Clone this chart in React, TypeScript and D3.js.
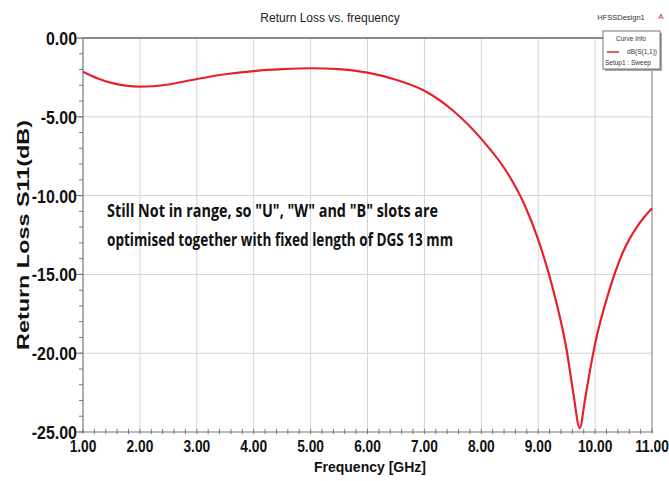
import * as d3 from "d3";

const freqGHz = [1.0, 1.25, 1.5, 1.75, 2.0, 2.5, 3.0, 3.5, 4.0, 4.5, 5.0, 5.5, 6.0, 6.5, 7.0, 7.5, 8.0, 8.5, 8.75, 9.0, 9.25, 9.5, 9.62, 9.73, 9.82, 9.9, 10.0, 10.25, 10.5, 10.75, 11.0];
const s11dB = [-2.14, -2.55, -2.85, -3.02, -3.09, -2.95, -2.6, -2.3, -2.1, -1.98, -1.92, -1.97, -2.2, -2.65, -3.35, -4.6, -6.4, -8.8, -10.5, -12.8, -15.8, -19.8, -22.6, -24.75, -23.0, -21.3, -19.4, -16.0, -13.5, -11.9, -10.8];

const xTicks = [1, 2, 3, 4, 5, 6, 7, 8, 9, 10, 11];
const yTicks = [0, -5, -10, -15, -20, -25];

const W = 669;
const H = 481;
const margin = { top: 38, right: 17, bottom: 49, left: 83 };

const App = () => {
  const x = d3.scaleLinear().domain([1, 11]).range([margin.left, W - margin.right]);
  const y = d3.scaleLinear().domain([-25, 0]).range([H - margin.bottom, margin.top]);

  const pts = freqGHz.map((f, i) => [f, s11dB[i]] as [number, number]);
  const line = d3.line<[number, number]>()
    .x(d => x(d[0]))
    .y(d => y(d[1]))
    .curve(d3.curveMonotoneX);

  const x0 = x(1), x1 = x(11), yTop = y(0), yBot = y(-25);
  const xMinor = d3.range(1, 11.001, 0.2);
  const yMinor = d3.range(-25, 0.001, 1);

  return (
    <svg width={W} height={H} style={{ position: "absolute", left: 0, top: 0, background: "#fff" }}
      fontFamily="Arial, 'Liberation Sans', sans-serif">
      {/* title */}
      <text x={330} y={22} textAnchor="middle" fontSize={12} fill="#222">Return Loss vs. frequency</text>
      <text x={621} y={20} textAnchor="middle" fontSize={7.5} fill="#333">HFSSDesign1</text>
      <text x={661} y={19} textAnchor="middle" fontSize={8} fill="#d02030">A</text>

      {/* grid */}
      {xTicks.slice(1, -1).map(t => (
        <line key={"gx" + t} x1={x(t)} x2={x(t)} y1={yTop} y2={yBot} stroke="#d4d4d4" strokeWidth={1} />
      ))}
      {yTicks.slice(1, -1).map(t => (
        <line key={"gy" + t} x1={x0} x2={x1} y1={y(t)} y2={y(t)} stroke="#d4d4d4" strokeWidth={1} />
      ))}

      {/* frame */}
      <line x1={x0} x2={x1} y1={yTop} y2={yTop} stroke="#8a8a8a" strokeWidth={2} />
      <line x1={x1} x2={x1} y1={yTop} y2={yBot} stroke="#8a8a8a" strokeWidth={1.2} />
      <line x1={x0} x2={x0} y1={yTop} y2={yBot} stroke="#777" strokeWidth={1.2} />
      <line x1={x0} x2={x1} y1={yBot} y2={yBot} stroke="#777" strokeWidth={1.2} />

      {/* minor ticks */}
      {yMinor.map(t => (
        <line key={"my" + t} x1={x0 - 4} x2={x0} y1={y(t)} y2={y(t)} stroke="#777" strokeWidth={1} />
      ))}
      {xMinor.map(t => (
        <line key={"mx" + t} x1={x(t)} x2={x(t)} y1={yBot - 3} y2={yBot + 2} stroke="#777" strokeWidth={1} />
      ))}
      {yTicks.map(t => (
        <line key={"ty" + t} x1={x0 - 8} x2={x0} y1={y(t)} y2={y(t)} stroke="#777" strokeWidth={1} />
      ))}

      {/* curve */}
      <path d={line(pts) ?? ""} fill="none" stroke="#e8202c" strokeWidth={2.2} />

      {/* axis labels */}
      {yTicks.map(t => (
        <text key={"ly" + t} transform={`translate(77, ${y(t) + 7}) scale(0.84, 1)`} textAnchor="end"
          fontSize={19} fontWeight="bold" fill="#111">
          {t.toFixed(2)}
        </text>
      ))}
      {xTicks.map(t => (
        <text key={"lx" + t} transform={`translate(${x(t)}, 452) scale(0.86, 1)`} textAnchor="middle"
          fontSize={16} fontWeight="bold" fill="#111">
          {t.toFixed(2)}
        </text>
      ))}
      <text x={370} y={472} textAnchor="middle" fontSize={14} fontWeight="bold" fill="#111">Frequency [GHz]</text>
      <text transform={`translate(29, 235) rotate(-90)`} textAnchor="middle" fontSize={17} fontWeight="bold"
        fill="#111" textLength={230} lengthAdjust="spacingAndGlyphs">Return Loss S11(dB)</text>

      {/* annotation */}
      <text x={107} y={217} fontSize={18} fontWeight="bold" fill="#111" fontFamily="'Open Sans', sans-serif"
        textLength={331} lengthAdjust="spacingAndGlyphs">Still Not in range, so "U",  "W" and "B" slots are</text>
      <text x={107} y={246} fontSize={18} fontWeight="bold" fill="#111" fontFamily="'Open Sans', sans-serif"
        textLength={346} lengthAdjust="spacingAndGlyphs">optimised together with fixed length of DGS 13 mm</text>

      {/* legend */}
      <rect x={605} y={33} width={57} height={38} fill="#aaa" />
      <rect x={603} y={31} width={57} height={38} fill="#fff" stroke="#555" strokeWidth={0.8} />
      <text x={631} y={41} textAnchor="middle" fontSize={6.5} fill="#333">Curve Info</text>
      <line x1={607} x2={619} y1={52} y2={52} stroke="#e8202c" strokeWidth={1.5} />
      <text x={657} y={54} textAnchor="end" fontSize={6.5} fill="#333">dB(S(1,1))</text>
      <text x={605} y={65} fontSize={6.5} fill="#333">Setup1 : Sweep</text>
    </svg>
  );
};

export default App;
